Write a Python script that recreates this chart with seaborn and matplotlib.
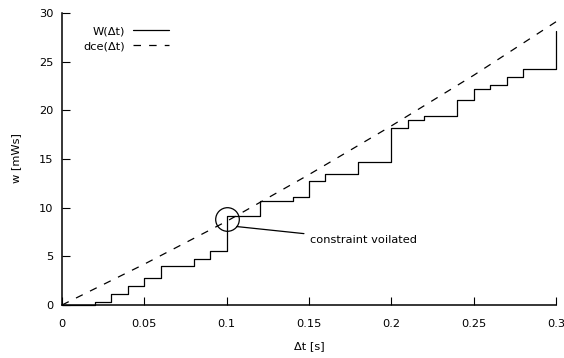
import numpy as np
import pandas as pd
import matplotlib
matplotlib.use("Agg")
import matplotlib.pyplot as plt
import seaborn as sns

# data
t_steps = [0.0, 0.01, 0.02, 0.03, 0.04, 0.05, 0.06, 0.07, 0.08, 0.09, 0.10,
           0.11, 0.12, 0.13, 0.14, 0.15, 0.16, 0.17, 0.18, 0.19, 0.20, 0.21,
           0.22, 0.23, 0.24, 0.25, 0.26, 0.27, 0.28, 0.29, 0.30]
w_steps = [0.0, 0.0, 0.3, 1.1, 2.0, 2.75, 4.0, 4.0, 4.7, 5.55, 9.15,
           9.15, 10.7, 10.7, 11.1, 12.75, 13.5, 13.5, 14.7, 14.7, 18.2, 19.0,
           19.45, 19.45, 21.05, 22.2, 22.6, 23.45, 24.25, 24.25, 28.2]
t_dce = [0.0, 0.05, 0.10, 0.15, 0.20, 0.25, 0.30]
w_dce = [0.0, 4.2, 8.6, 13.4, 18.4, 23.6, 29.1]
x_ticks = [0, 0.05, 0.1, 0.15, 0.2, 0.25, 0.3]
x_ticklabels = ["0", "0.05", "0.1", "0.15", "0.2", "0.25", "0.3"]
y_ticks = [0, 5, 10, 15, 20, 25, 30]

sns.set_style("ticks")
plt.rcParams.update({
    "font.family": "DejaVu Sans", "font.size": 8.2,
    "xtick.direction": "in", "ytick.direction": "in",
    "xtick.major.size": 6, "ytick.major.size": 6,
    "xtick.major.width": 0.8, "ytick.major.width": 0.8,
    "axes.linewidth": 1.1, "axes.edgecolor": "black",
    "xtick.color": "black", "ytick.color": "black",
    "text.color": "black", "axes.labelcolor": "black",
})

steps = pd.DataFrame({"t": t_steps, "w": w_steps})
dce = pd.DataFrame({"t": t_dce, "w": w_dce})

fig = plt.figure(figsize=(5.64, 3.58), dpi=100)
ax = fig.add_axes([62 / 564, 53 / 358, 494 / 564, 292 / 358])

sns.lineplot(data=steps, x="t", y="w", drawstyle="steps-post", color="black",
             lw=0.9, label="W(\u0394t)", ax=ax, clip_on=False)
sns.lineplot(data=dce, x="t", y="w", color="black", lw=0.9,
             dashes=False, linestyle=(0, (6, 6.5)), label="dce(\u0394t)",
             ax=ax, clip_on=False)

# the violated spot
ax.plot([0.1002], [8.87], marker="o", ms=17, mfc="none", mec="black", mew=0.9)
ax.annotate("constraint voilated", xy=(0.1061, 8.06), xytext=(0.1506, 6.69),
            ha="left", va="center",
            arrowprops=dict(arrowstyle="-", lw=0.9, color="black",
                            shrinkA=2, shrinkB=0))

ax.set_xlim(0, 0.3)
ax.set_ylim(0, 30)
ax.set_xticks(x_ticks)
ax.set_xticklabels(x_ticklabels)
ax.set_yticks(y_ticks)
ax.tick_params(axis="x", pad=10)
ax.tick_params(axis="y", pad=6)
ax.set_xlabel("\u0394t [s]")
ax.set_ylabel("w [mWs]")
ax.xaxis.set_label_coords(0.5, -0.123)
ax.yaxis.set_label_coords(-0.093, 0.503)
ax.yaxis.label.set_va("center")
sns.despine(ax=ax)

ax.legend(loc="upper right", bbox_to_anchor=(0.217, 0.955), frameon=False,
          markerfirst=False, handlelength=3.2, handletextpad=0.65,
          labelspacing=0.45, borderpad=0, borderaxespad=0)

fig.savefig("out.png", dpi=100, facecolor="white")
